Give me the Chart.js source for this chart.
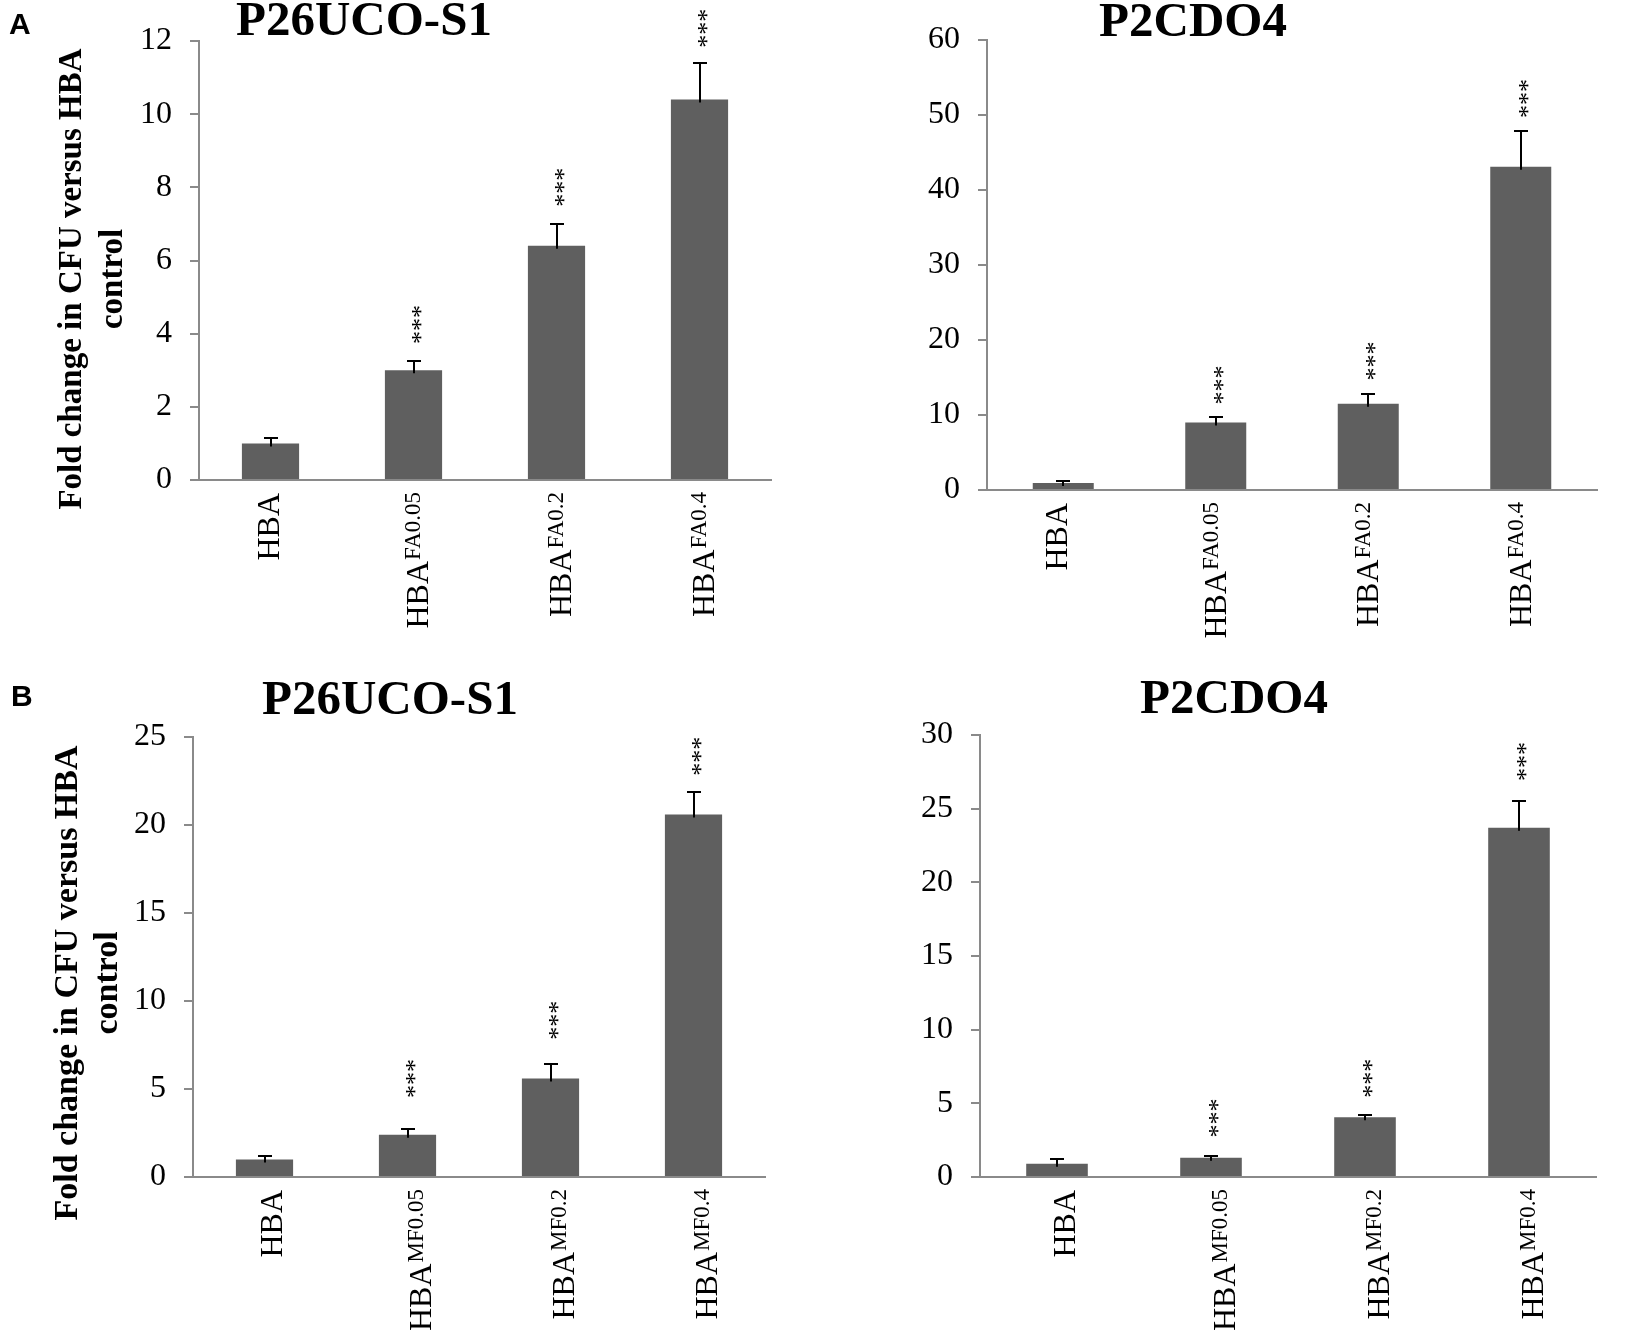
<!DOCTYPE html>
<html lang="en">
<head>
  <meta charset="UTF-8">
  <title>Fold change in CFU versus HBA control</title>
  <script src="https://cdn.jsdelivr.net/npm/chart.js@4.4.0/dist/chart.umd.min.js"></script>
  <style>
    html, body { margin: 0; padding: 0; background: #fff; }
    #page { position: relative; width: 1650px; height: 1333px; overflow: hidden; }
    #page canvas { position: absolute; }
  </style>
</head>
<body>
  <div id="page">
    <canvas id="chartA1" width="825" height="650" style="left:0;top:0"></canvas>
    <canvas id="chartA2" width="825" height="650" style="left:825px;top:0"></canvas>
    <canvas id="chartB1" width="825" height="683" style="left:0;top:650px"></canvas>
    <canvas id="chartB2" width="825" height="683" style="left:825px;top:650px"></canvas>
  </div>

  <script>
    // ---- data ----
    const labelBase = 'HBA';
    const supFA = ['', 'FA0.05', 'FA0.2', 'FA0.4'];
    const supMF = ['', 'MF0.05', 'MF0.2', 'MF0.4'];

    // A, P26UCO-S1
    const valsA1 = [1.0, 3.0, 6.4, 10.4];
    const errA1 = [0.15, 0.25, 0.6, 1.0];
    const starsA1 = [null, 4.25, 8.0, 12.35];
    // A, P2CDO4
    const valsA2 = [0.95, 9.0, 11.5, 43.1];
    const errA2 = [0.25, 0.8, 1.3, 4.7];
    const starsA2 = [null, 14.0, 17.2, 52.2];
    // B, P26UCO-S1
    const valsB1 = [1.0, 2.4, 5.6, 20.6];
    const errB1 = [0.2, 0.35, 0.8, 1.3];
    const starsB1 = [null, 5.6, 8.9, 23.9];
    // B, P2CDO4
    const valsB2 = [0.9, 1.3, 4.05, 23.7];
    const errB2 = [0.3, 0.15, 0.15, 1.8];
    const starsB2 = [null, 4.0, 6.7, 28.2];

    const yMaxA1 = 12, yStepA1 = 2;
    const yMaxA2 = 60, yStepA2 = 10;
    const yMaxB1 = 25, yStepB1 = 5;
    const yMaxB2 = 30, yStepB2 = 5;

    const yTitleLines = ['Fold change in CFU versus HBA', 'control'];

    // ---- styles ----
    const SERIF = '"Liberation Serif", "Times New Roman", serif';
    const SANS = '"Liberation Sans", Arial, sans-serif';
    const AXIS_GREY = '#8a8a8a';
    const BAR_GREY = '#5f5f5f';

    // draws error bars, stars, rotated category labels, titles
    const decorations = {
      id: 'decorations',
      afterDraw(chart) {
        const p = chart.options.plugins.decorations;
        const ctx = chart.ctx;
        const xs = chart.scales.x, ys = chart.scales.y;
        const bottom = chart.chartArea.bottom;
        ctx.save();

        // error bars (plus side only)
        ctx.strokeStyle = '#000';
        ctx.lineWidth = 2;
        p.values.forEach((v, i) => {
          const cx = Math.round(xs.getPixelForValue(i));
          const y0 = ys.getPixelForValue(v);
          const y1 = Math.round(ys.getPixelForValue(v + p.errors[i]));
          ctx.beginPath();
          ctx.moveTo(cx, y0 + 3);
          ctx.lineTo(cx, y1);
          ctx.moveTo(cx - 7, y1);
          ctx.lineTo(cx + 7, y1);
          ctx.stroke();
        });

        // significance stars, rotated
        ctx.fillStyle = '#000';
        ctx.font = '26px ' + SERIF;
        ctx.textAlign = 'center';
        ctx.textBaseline = 'alphabetic';
        p.stars.forEach((s, i) => {
          if (s == null) return;
          const m = ctx.measureText('***');
          const off = (m.actualBoundingBoxAscent - m.actualBoundingBoxDescent) / 2;
          ctx.save();
          ctx.translate(xs.getPixelForValue(i) + 3, ys.getPixelForValue(s));
          ctx.rotate(-Math.PI / 2);
          ctx.fillText('***', 0, off);
          ctx.restore();
        });

        // category labels with superscripts
        p.sups.forEach((sup, i) => {
          const cx = xs.getPixelForValue(i);
          const capsMid = cx + p.labelShift + (sup ? 3 : -3);
          ctx.save();
          ctx.translate(capsMid + 11, bottom + 12);
          ctx.rotate(-Math.PI / 2);
          ctx.textAlign = 'right';
          ctx.textBaseline = 'alphabetic';
          let supW = 0;
          if (sup) {
            ctx.font = '23px ' + SERIF;
            supW = ctx.measureText(sup).width;
            ctx.fillText(sup, 0, -8);
          }
          ctx.font = '32px ' + SERIF;
          ctx.fillText(labelBase, -supW - 1, 0);
          ctx.restore();
        });

        // panel title
        ctx.font = 'bold 49px ' + SERIF;
        ctx.textAlign = 'center';
        ctx.textBaseline = 'alphabetic';
        ctx.fillText(p.title, p.titleX, p.titleY);

        // y-axis title
        if (p.yTitle) {
          ctx.font = 'bold ' + p.yTitle.size + 'px ' + SERIF;
          ctx.textBaseline = 'middle';
          yTitleLines.forEach((line, k) => {
            ctx.save();
            ctx.translate(p.yTitle.xs[k], p.yTitle.cy);
            ctx.rotate(-Math.PI / 2);
            ctx.fillText(line, 0, 0);
            ctx.restore();
          });
        }

        // panel letter
        if (p.letter) {
          ctx.font = 'bold 30px ' + SANS;
          ctx.textAlign = 'left';
          ctx.textBaseline = 'alphabetic';
          ctx.fillText(p.letter.text, p.letter.x, p.letter.y);
        }
        ctx.restore();
      }
    };

    function makePanel(id, vals, errs, stars, sups, yMax, yStep, look) {
      const canvas = document.getElementById(id);
      const W = canvas.width, H = canvas.height;
      const area = look.area;
      return new Chart(canvas, {
        type: 'bar',
        data: {
          labels: sups.map(s => labelBase + (s ? ' ' + s : '')),
          datasets: [{
            data: vals,
            backgroundColor: BAR_GREY,
            borderWidth: 0,
            barPercentage: 0.4,
            categoryPercentage: 1.0
          }]
        },
        options: {
          responsive: false,
          animation: false,
          layout: { padding: { top: area.top, right: W - area.right, left: 0, bottom: 0 } },
          scales: {
            x: {
              ticks: { display: false },
              grid: { display: false },
              border: { color: AXIS_GREY, width: 2 },
              afterFit(scale) { scale.height = H - area.bottom; }
            },
            y: {
              min: 0,
              max: yMax,
              ticks: {
                stepSize: yStep,
                color: '#000',
                padding: 18,
                font: { family: SERIF, size: 32 }
              },
              grid: { drawOnChartArea: false, tickLength: 9, color: AXIS_GREY, lineWidth: 2 },
              border: { color: AXIS_GREY, width: 2 },
              afterFit(scale) { scale.width = area.left; }
            }
          },
          plugins: {
            legend: { display: false },
            tooltip: { enabled: false },
            decorations: {
              values: vals,
              errors: errs,
              stars: stars,
              sups: sups,
              title: look.title,
              titleX: look.titleX,
              titleY: look.titleY,
              labelShift: look.labelShift,
              yTitle: look.yTitle,
              letter: look.letter
            }
          }
        },
        plugins: [decorations]
      });
    }

    makePanel('chartA1', valsA1, errA1, starsA1, supFA, yMaxA1, yStepA1, {
      area: { left: 199, top: 41, right: 771, bottom: 480 },
      title: 'P26UCO-S1', titleX: 364, titleY: 35,
      labelShift: 0,
      yTitle: { xs: [72, 113], cy: 279, size: 33 },
      letter: { text: 'A', x: 9, y: 34 }
    });

    makePanel('chartA2', valsA2, errA2, starsA2, supFA, yMaxA2, yStepA2, {
      area: { left: 162, top: 40, right: 772, bottom: 490 },
      title: 'P2CDO4', titleX: 368, titleY: 36,
      labelShift: -4
    });

    makePanel('chartB1', valsB1, errB1, starsB1, supMF, yMaxB1, yStepB1, {
      area: { left: 193, top: 87, right: 765, bottom: 527 },
      title: 'P26UCO-S1', titleX: 390, titleY: 64,
      labelShift: 9,
      yTitle: { xs: [68, 108], cy: 333, size: 34 },
      letter: { text: 'B', x: 11, y: 56 }
    });

    makePanel('chartB2', valsB2, errB2, starsB2, supMF, yMaxB2, yStepB2, {
      area: { left: 155, top: 85, right: 771, bottom: 527 },
      title: 'P2CDO4', titleX: 409, titleY: 63,
      labelShift: 10
    });
  </script>
</body>
</html>
